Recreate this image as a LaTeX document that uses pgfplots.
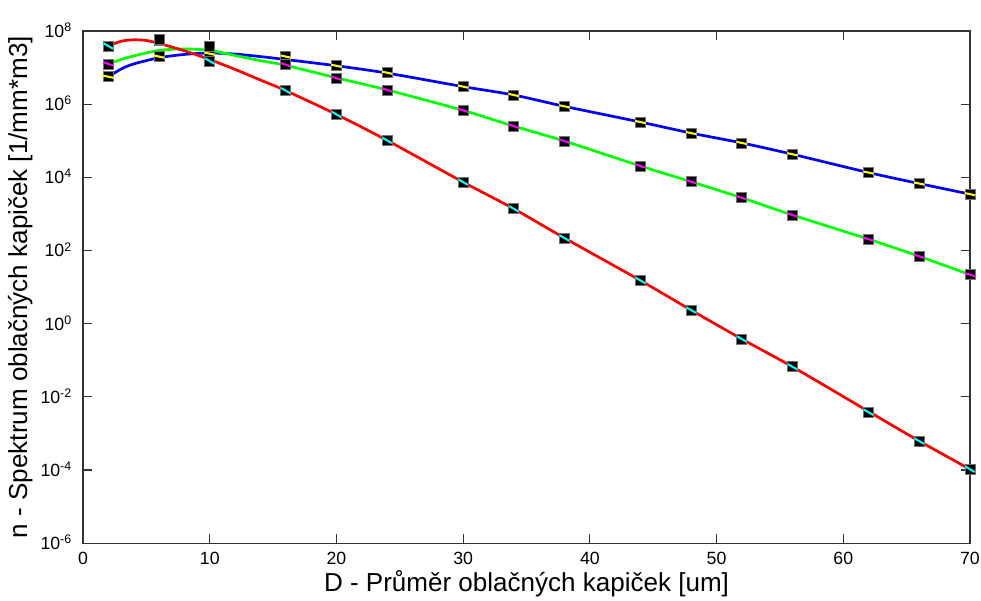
\documentclass[border=0pt]{standalone}
\usepackage{fontspec}
\setmainfont{Liberation Sans}
\usepackage{pgfplots}
\pgfplotsset{compat=1.18}
\definecolor{mblue}{RGB}{0,0,255}
\definecolor{mgreen}{RGB}{0,255,0}
\definecolor{mred}{RGB}{255,0,0}
\definecolor{myellow}{RGB}{255,255,0}
\definecolor{mmagenta}{RGB}{255,0,255}
\definecolor{mcyan}{RGB}{0,255,255}
\begin{document}
\begin{tikzpicture}
\begin{axis}[
  scale only axis, width=426pt, height=246pt,
  xmin=0, xmax=70, ymin=1e-6, ymax=1e8, ymode=log,
  xtick={0,10,20,30,40,50,60,70},
  xticklabels={0,10,20,30,40,50,60,70},
  ytick={1e-6,1e-4,1e-2,1,1e2,1e4,1e6,1e8},
  yticklabels={10\textsuperscript{-6},10\textsuperscript{-4},10\textsuperscript{-2},10\textsuperscript{0},10\textsuperscript{2},10\textsuperscript{4},10\textsuperscript{6},10\textsuperscript{8}},
  yminorticks=false, xminorticks=false,
  tick align=inside, major tick length=4.5pt,
  axis line style={black!80, line width=0.6pt},
  tick style={black!80, line width=0.6pt},
  ticklabel style={font=\fontsize{8.5}{10}\selectfont, inner sep=0pt},
  yticklabel style={anchor=base east, yshift=-3.1pt, xshift=-5pt},
  xticklabel style={anchor=north, yshift=-4.3pt},
  xlabel={D - Průměr oblačných kapiček [um]},
  ylabel={n - Spektrum oblačných kapiček [1/mm*m3]},
  label style={font=\fontsize{12.5}{14}\selectfont, inner sep=0pt},
  xlabel style={at={(axis description cs:0.5,-0.0945)}, anchor=base},
  ylabel style={at={(axis description cs:-0.063,0.5)}, anchor=base},
  clip=false,
]
% fitted curves
\addplot[mblue, line width=1.3pt, smooth] coordinates {
(2,5.62e6)(3,9.12e6)(4,1.26e7)(6,1.86e7)(8,2.29e7)(10,2.51e7)(12,2.34e7)(14,2.00e7)(16,1.66e7)
(20,1.12e7)(24,7.08e6)(30,3.02e6)(34,1.78e6)(38,8.71e5)(44,3.24e5)(48,1.62e5)(52,8.71e4)
(56,4.27e4)(62,1.35e4)(66,6.76e3)(70,3.47e3)};
\addplot[mgreen, line width=1.3pt, smooth] coordinates {
(2,1.26e7)(3,1.66e7)(4,2.09e7)(6,2.95e7)(8,3.24e7)(10,2.95e7)(12,2.14e7)(14,1.55e7)(16,1.15e7)
(20,5.25e6)(24,2.45e6)(30,6.76e5)(34,2.51e5)(38,9.77e4)(44,2.04e4)(48,7.59e3)(52,2.75e3)
(56,9.33e2)(62,2.04e2)(66,69.2)(70,21.9)};
\addplot[mred, line width=1.3pt, smooth] coordinates {
(2,3.89e7)(3,5.25e7)(4,5.75e7)(5,5.50e7)(6,4.57e7)(8,2.88e7)(10,1.66e7)(12,8.91e6)(14,4.57e6)
(16,2.34e6)(20,5.25e5)(24,1.02e5)(30,7.41e3)(34,1.38e3)(38,2.19e2)(44,15.1)(48,2.34)
(52,0.380)(56,0.0661)(62,3.98e-3)(66,6.17e-4)(70,1.05e-4)};
% data points: black squares
\addplot[only marks, mark=square*, mark size=2.4pt, mark options={fill=black, draw=black!55, line width=0.4pt}] coordinates {
(2,5.62e6)(6,2.0e7)(10,2.4e7)(16,2.0e7)(20,1.12e7)(24,7.24e6)(30,3.02e6)(34,1.78e6)(38,8.71e5)
(44,3.24e5)(48,1.62e5)(52,8.71e4)(56,4.27e4)(62,1.35e4)(66,6.76e3)(70,3.47e3)};
\addplot[only marks, mark=square*, mark size=2.4pt, mark options={fill=black, draw=black!55, line width=0.4pt}] coordinates {
(2,1.26e7)(6,5.6e7)(10,3.89e7)(16,1.2e7)(20,5.13e6)(24,2.45e6)(30,6.76e5)(34,2.51e5)(38,9.77e4)
(44,2.04e4)(48,7.59e3)(52,2.75e3)(56,9.33e2)(62,2.04e2)(66,69.2)(70,21.9)};
\addplot[only marks, mark=square*, mark size=2.4pt, mark options={fill=black, draw=black!55, line width=0.4pt}] coordinates {
(2,3.89e7)(6,5.75e7)(10,1.51e7)(16,2.34e6)(20,5.25e5)(24,1.02e5)(30,7.41e3)(34,1.38e3)(38,2.19e2)
(44,15.1)(48,2.34)(52,0.380)(56,0.0661)(62,3.80e-3)(66,6.17e-4)(70,1.05e-4)};
% coloured strokes inside the markers
\addplot[only marks, mark=-, mark size=2.6pt, mark options={myellow, line width=1pt, rotate=-12}] coordinates {
(2,5.62e6)(6,2.0e7)(10,2.4e7)(16,2.0e7)(20,1.12e7)(24,7.24e6)(30,3.02e6)(34,1.78e6)(38,8.71e5)
(44,3.24e5)(48,1.62e5)(52,8.71e4)(56,4.27e4)(62,1.35e4)(66,6.76e3)(70,3.47e3)};
\addplot[only marks, mark=-, mark size=2.6pt, mark options={mmagenta, line width=1pt, rotate=-18}] coordinates {
(2,1.26e7)(16,1.2e7)(20,5.13e6)(24,2.45e6)(30,6.76e5)(34,2.51e5)(38,9.77e4)
(44,2.04e4)(48,7.59e3)(52,2.75e3)(56,9.33e2)(62,2.04e2)(66,69.2)(70,21.9)};
\addplot[only marks, mark=-, mark size=2.6pt, mark options={mcyan, line width=1pt, rotate=-30}] coordinates {
(2,3.89e7)(10,1.51e7)(16,2.34e6)(20,5.25e5)(24,1.02e5)(30,7.41e3)(34,1.38e3)(38,2.19e2)
(44,15.1)(48,2.34)(52,0.380)(56,0.0661)(62,3.80e-3)(66,6.17e-4)(70,1.05e-4)};
\end{axis}
\pgfresetboundingbox
\path[use as bounding box] ([xshift=-39.9pt,yshift=-27.4pt]current axis.south west) rectangle ([xshift=5.3pt,yshift=14.9pt]current axis.north east);
\end{tikzpicture}
\end{document}
